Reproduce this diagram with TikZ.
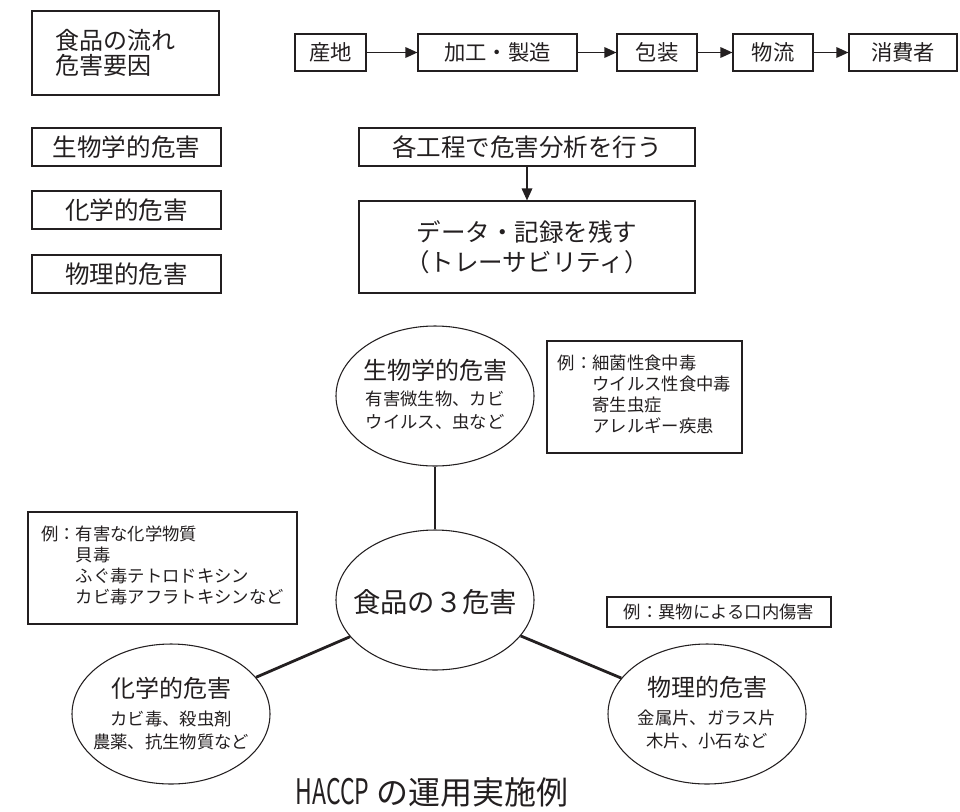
\documentclass[tikz,border=0pt]{standalone}
\usepackage{fontspec}
\usepackage{graphicx}
\setmainfont{Noto Sans CJK JP}
\usetikzlibrary{shapes.geometric,arrows.meta}
\definecolor{ink}{RGB}{35,31,32}
\begin{document}
\begin{tikzpicture}[x=0.75pt,y=-0.75pt,
  every node/.style={text=ink},
  box/.style={draw=ink, line width=0.9pt, rectangle, inner sep=0pt, align=center},
  flowbox/.style={box, minimum height=27.75pt, font=\fontsize{16}{19}\selectfont},
  hazbox/.style={box, minimum width=141.75pt, minimum height=28.5pt, font=\fontsize{18.4}{22}\selectfont},
  oval/.style={draw=ink, line width=0.8pt, ellipse, minimum width=148.5pt, minimum height=105pt, inner sep=0pt},
  ovtitle/.style={font=\fontsize{18}{21}\selectfont, inner sep=0pt},
  ovsub/.style={font=\fontsize{13}{17.25}\selectfont, align=center, inner sep=0pt},
  exbox/.style={box, font=\fontsize{13}{15.75}\selectfont},
  flowarrow/.style={draw=ink, line width=0.9pt, -{Triangle[length=9pt,width=8pt]}},
  link/.style={draw=ink, line width=2.1pt}]
\useasboundingbox (0,0) rectangle (960,811);

% header box
\node[box, align=left, text width=105.75pt, inner xsep=17.25pt, minimum height=63pt,
      font=\fontsize{18}{18.75}\selectfont] (flowhead) at (125.5,53) {食品の流れ\\危害要因};

% flow
\node[flowbox, minimum width=53.25pt] (f1) at (330.5,52.5) {産地};
\node[flowbox, minimum width=119.25pt] (f2) at (497.5,52.5) {加工・製造};
\node[flowbox, minimum width=60pt] (f3) at (657,52.5) {包装};
\node[flowbox, minimum width=60pt] (f4) at (773,52.5) {物流};
\node[flowbox, minimum width=81pt] (f5) at (903,52.5) {消費者};
\draw[flowarrow] (f1) -- (f2);
\draw[flowarrow] (f2) -- (f3);
\draw[flowarrow] (f3) -- (f4);
\draw[flowarrow] (f4) -- (f5);

% hazard boxes
\node[hazbox] (h1) at (126.5,147) {生物学的危害};
\node[hazbox] (h2) at (126.5,210) {化学的危害};
\node[hazbox] (h3) at (126.5,274) {物理的危害};

% analysis
\node[box, minimum width=252pt, minimum height=28.5pt, font=\fontsize{18.4}{22}\selectfont] (analysis) at (527,147) {各工程で危害分析を行う};
\node[box, minimum width=252pt, minimum height=69pt, font=\fontsize{18.4}{22.5}\selectfont] (record) at (527,247) {データ・記録を残す\\（トレーサビリティ）};
\draw[flowarrow] (analysis) -- (record);

% ellipses
\node[oval] (bio) at (435,396) {};
\node[ovtitle] (biot) at (435,370) {生物学的危害};
\node[ovsub] (bios) at (435,410) {有害微生物、カビ\\ウイルス、虫など};

\node[oval] (core) at (435,600) {};
\node[font=\fontsize{20.5}{24}\selectfont, inner sep=0pt] (coret) at (435,602) {食品の３危害};

\node[oval] (chem) at (171,714) {};
\node[ovtitle] (chemt) at (171,688) {化学的危害};
\node[ovsub] (chems) at (171,730) {カビ毒、殺虫剤\\農薬、抗生物質など};

\node[oval] (phys) at (707,714) {};
\node[ovtitle] (physt) at (707,687) {物理的危害};
\node[ovsub] (physs) at (707,729) {金属片、ガラス片\\木片、小石など};

\draw[link] (bio) -- (core);
\draw[link] (core) -- (chem);
\draw[link] (core) -- (phys);

% example boxes
\node[exbox, minimum width=146.25pt, minimum height=84pt] (bioex) at (644.5,397)
  {\begin{tabular}{@{}l@{}l@{}}例：&細菌性食中毒\\ &ウイルス性食中毒\\ &寄生虫症\\ &アレルギー疾患\end{tabular}};
\node[exbox, minimum width=201.75pt, minimum height=84pt] (chemex) at (162.5,568)
  {\begin{tabular}{@{}l@{}l@{}}例：&有害な化学物質\\ &貝毒\\ &ふぐ毒テトロドキシン\\ &カビ毒アフラトキシンなど\end{tabular}};
\node[exbox, minimum width=168pt, minimum height=22.5pt] (physex) at (719,612) {例：異物による口内傷害};

% title
\node[font=\fontsize{24}{28}\selectfont, inner sep=0pt] (title) at (432,792) {\scalebox{0.72}[1.1]{HACCP} の運用実施例};
\end{tikzpicture}
\end{document}
